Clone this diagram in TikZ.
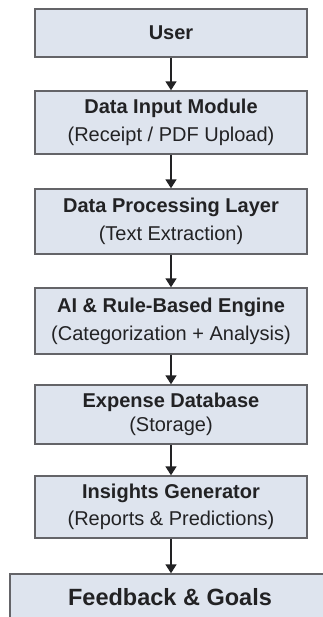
\documentclass[tikz,border=0pt]{standalone}
\usepackage{fontspec}
\setmainfont{Liberation Sans}
\usetikzlibrary{arrows.meta}

\definecolor{boxfill}{RGB}{222,228,238}
\definecolor{boxline}{RGB}{100,100,104}
\definecolor{inktext}{RGB}{34,34,36}

\begin{document}
\begin{tikzpicture}[x=1pt,y=1pt,
  stagebox/.style={draw=boxline, fill=boxfill, line width=1.4pt, minimum width=272pt, inner sep=0pt,
    align=center, text=inktext, font=\fontsize{20}{28}\selectfont},
  flowarrow/.style={draw=inktext, line width=1.5pt, -{Triangle[width=11pt,length=9pt]}}]
\useasboundingbox (0,0) rectangle (322,-617);
\fill[white] (0,0) rectangle (322,-617);

\node[stagebox, minimum height=48pt] (user) at (171,-33) {\bfseries User};
\node[stagebox, minimum height=63pt] (input) at (171,-122.5) {\bfseries Data Input Module\\(Receipt / PDF Upload)};
\node[stagebox, minimum height=65pt] (process) at (171,-221.5) {\bfseries Data Processing Layer\\(Text Extraction)};
\node[stagebox, minimum height=66pt] (engine) at (171,-321) {\bfseries AI \& Rule-Based Engine\\(Categorization + Analysis)};
\node[stagebox, minimum height=59pt] (database) at (171,-414.5) {\bfseries Expense Database\\[-4pt](Storage)};
\node[stagebox, minimum height=62pt] (insights) at (171,-507) {\bfseries Insights Generator\\[-1pt](Reports \& Predictions)};
\node[stagebox, minimum height=46pt, minimum width=320pt, font=\fontsize{23.5}{28}\selectfont] (goals) at (170,-597) {\bfseries Feedback \& Goals}; %cut off at the page edge

\draw[flowarrow] (user.south) -- (input.north);
\draw[flowarrow] (input.south) -- (process.north);
\draw[flowarrow] (process.south) -- (engine.north);
\draw[flowarrow] (engine.south) -- (database.north);
\draw[flowarrow] (database.south) -- (insights.north);
\draw[flowarrow] (insights.south) -- (goals.north-|insights.south);
\end{tikzpicture}
\end{document}
